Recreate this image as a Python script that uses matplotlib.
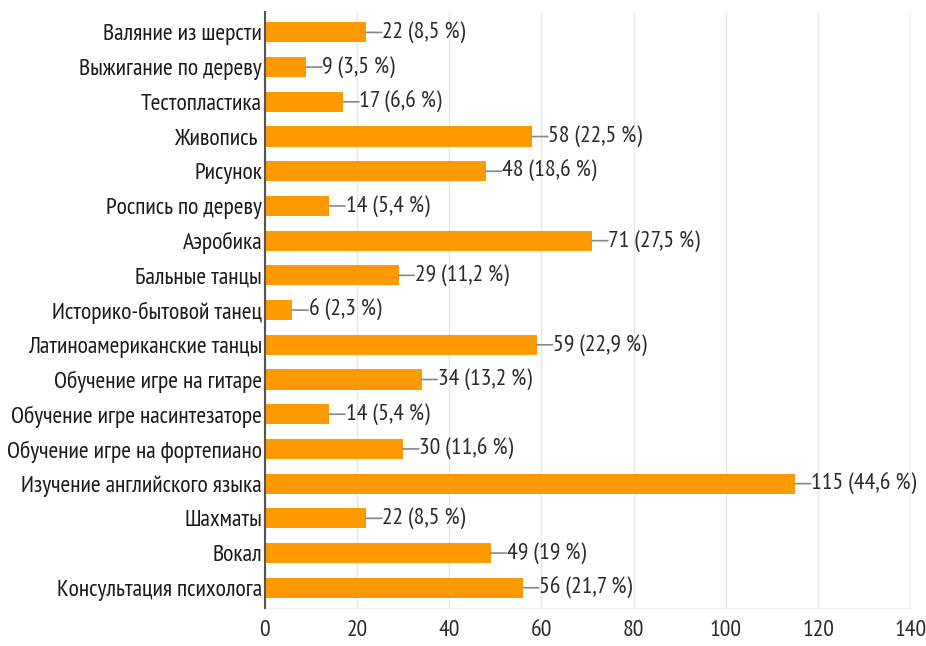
import matplotlib
matplotlib.use("Agg")
import matplotlib.pyplot as plt
from matplotlib import font_manager

categories = [
    "Валяние из шерсти", "Выжигание по дереву", "Тестопластика", "Живопись ",
    "Рисунок", "Роспись по дереву", "Аэробика", "Бальные танцы",
    "Историко-бытовой танец", "Латиноамериканские танцы", "Обучение игре на гитаре",
    "Обучение игре насинтезаторе", "Обучение игре на фортепиано",
    "Изучение английского языка", "Шахматы", "Вокал", "Консультация психолога",
]
counts = [22, 9, 17, 58, 48, 14, 71, 29, 6, 59, 34, 14, 30, 115, 22, 49, 56]
percents = ["8,5", "3,5", "6,6", "22,5", "18,6", "5,4", "27,5", "11,2", "2,3",
            "22,9", "13,2", "5,4", "11,6", "44,6", "8,5", "19", "21,7"]
xticks = [0, 20, 40, 60, 80, 100, 120, 140]

names = {f.name for f in font_manager.fontManager.ttflist}
fam = ["Liberation Sans Narrow", "PT Sans Narrow", "Archivo Narrow", "DejaVu Sans"]
fam = [f for f in fam if f in names] or ["DejaVu Sans"]
plt.rcParams['font.family'] = fam

fig = plt.figure(figsize=(9.26, 6.46), dpi=100)
ax = fig.add_axes([0.286, 0.059, 0.697, 0.922])

ypos = list(range(len(categories)))
ax.barh(ypos, counts, height=0.58, color="#FF9900", zorder=3)

for y, c, p in zip(ypos, counts, percents):
    ax.annotate("", xy=(c, y), xytext=(c + 3.4, y),
                arrowprops=dict(arrowstyle="-", color="#888888", lw=1.2,
                                shrinkA=0, shrinkB=0), zorder=4)
    ax.text(c + 3.5, y, f"{c} ({p} %)", va="center", ha="left",
            fontsize=17, color="#2a2a2a", zorder=5)

ax.set_xlim(0, 140)
ax.set_ylim(len(categories) - 0.42, -0.58)
ax.set_yticks(ypos)
ax.set_yticklabels(categories, fontsize=17, color="#1a1a1a")
ax.set_xticks(xticks)
ax.set_xticklabels([str(t) for t in xticks], fontsize=17, color="#2a2a2a")
ax.tick_params(axis="both", length=0)
ax.tick_params(axis="y", pad=2)
ax.tick_params(axis="x", pad=9)
ax.grid(axis="x", color="#e6e6e6", lw=1, zorder=0)
ax.spines["top"].set_visible(False)
ax.spines["right"].set_color("#eeeeee")
ax.spines["bottom"].set_color("#eeeeee")
ax.spines["left"].set_color("#555555")
ax.spines["left"].set_linewidth(1.5)
ax.spines["left"].set_zorder(6)

fig.savefig("out.png", dpi=100, facecolor="white")
